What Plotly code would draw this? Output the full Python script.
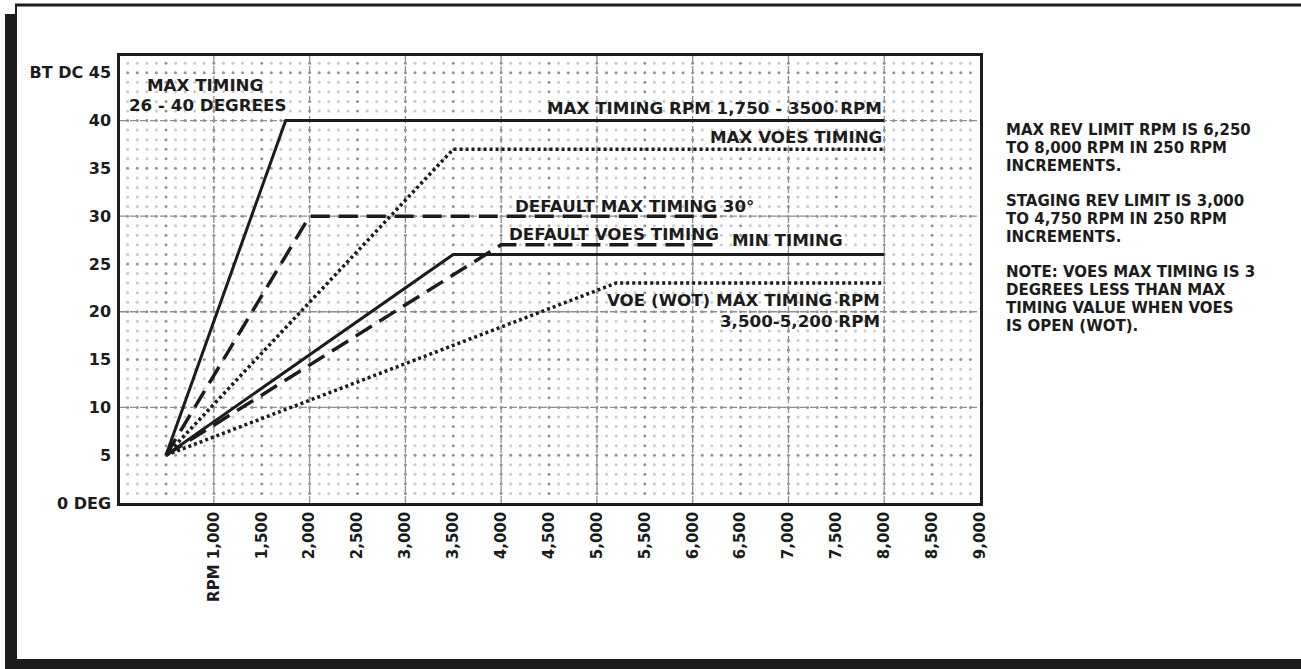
import plotly.graph_objects as go

# ---------------- data ----------------
max_timing_rpm = [500, 1750, 8000]
max_timing_deg = [5, 40, 40]

max_voes_rpm = [500, 3500, 8000]
max_voes_deg = [5, 37, 37]

default_max_rpm = [500, 2000, 6250]
default_max_deg = [5, 30, 30]

min_timing_rpm = [500, 3500, 8000]
min_timing_deg = [5, 26, 26]

default_voes_rpm = [500, 4000, 6250]
default_voes_deg = [5, 27, 27]

voe_wot_rpm = [500, 5200, 8000]
voe_wot_deg = [5, 23, 23]

x_tick_vals = [1000, 1500, 2000, 2500, 3000, 3500, 4000, 4500, 5000,
               5500, 6000, 6500, 7000, 7500, 8000, 8500, 9000]
x_tick_text = ["RPM 1,000", "1,500", "2,000", "2,500", "3,000", "3,500",
               "4,000", "4,500", "5,000", "5,500", "6,000", "6,500",
               "7,000", "7,500", "8,000", "8,500", "9,000"]
y_tick_vals = [0, 5, 10, 15, 20, 25, 30, 35, 40, 45]
y_tick_text = ["0 DEG", "5", "10", "15", "20", "25", "30", "35", "40", "BT DC 45"]

grid_x = [1000, 2000, 3000, 4000, 5000, 6000, 7000, 8000]
grid_y = [10, 20, 30, 40]

side_note_lines = [
    "MAX REV LIMIT RPM IS 6,250", "TO 8,000 RPM IN 250 RPM", "INCREMENTS.",
    "STAGING REV LIMIT IS 3,000", "TO 4,750 RPM IN 250 RPM", "INCREMENTS.",
    "NOTE: VOES MAX TIMING IS 3", "DEGREES LESS THAN MAX",
    "TIMING VALUE WHEN VOES", "IS OPEN (WOT).",
]
side_note_rows = [0, 1, 2, 4, 5, 6, 8, 9, 10, 11]

# ---------------- figure ----------------
INK = "#1c1c1c"
FONT = "DejaVu Sans"
X_RANGE = [20, 9000]
Y_RANGE = [0, 46.75]

fig = go.Figure()

# dot-grid background (every 100 rpm, every 1 degree)
dot_x, dot_y, dot_c = [], [], []
for r in range(100, 9000, 100):
    for d in range(1, 47):
        dot_x.append(r)
        dot_y.append(d)
        dot_c.append("#939393" if (r % 500 == 0 or d % 5 == 0) else "#cacaca")
fig.add_trace(go.Scatter(x=dot_x, y=dot_y, mode="markers",
                         marker=dict(size=3, color=dot_c, line=dict(width=0)),
                         hoverinfo="skip", showlegend=False))

def add_line(xs, ys, dash, width):
    fig.add_trace(go.Scatter(x=xs, y=ys, mode="lines",
                             line=dict(color=INK, width=width, dash=dash),
                             hoverinfo="skip", showlegend=False))

add_line(max_timing_rpm, max_timing_deg, "solid", 3)
add_line(min_timing_rpm, min_timing_deg, "solid", 3)
add_line(default_max_rpm, default_max_deg, "19px,9px", 3.5)
add_line(default_voes_rpm, default_voes_deg, "19px,9px", 3.5)
add_line(max_voes_rpm, max_voes_deg, "3px,3px", 3.5)
add_line(voe_wot_rpm, voe_wot_deg, "3px,3px", 3.5)

shapes = []
for gx in grid_x:
    shapes.append(dict(type="line", xref="x", yref="y", x0=gx, x1=gx,
                       y0=Y_RANGE[0], y1=Y_RANGE[1], layer="below",
                       line=dict(color="#8f8f8f", width=1.3, dash="7px,3px")))
for gy in grid_y:
    shapes.append(dict(type="line", xref="x", yref="y", x0=X_RANGE[0], x1=X_RANGE[1],
                       y0=gy, y1=gy, layer="below",
                       line=dict(color="#8f8f8f", width=1.3, dash="7px,3px")))

# page frame (pixel -> paper conversion)
PL, PW, PB, PH = 120, 860, 503, 447
def px(v):
    return (v - PL) / PW
def py(v):
    return (PB - v) / PH

shapes += [
    dict(type="rect", xref="paper", yref="paper", x0=px(5), x1=px(17), y0=py(669), y1=py(14),
         fillcolor=INK, line=dict(width=0)),
    dict(type="rect", xref="paper", yref="paper", x0=px(5), x1=px(1301), y0=py(669), y1=py(659),
         fillcolor=INK, line=dict(width=0)),
    dict(type="line", xref="paper", yref="paper", x0=px(15), x1=px(1301), y0=py(5), y1=py(5),
         line=dict(color=INK, width=3)),
    dict(type="line", xref="paper", yref="paper", x0=px(16), x1=px(16), y0=py(5), y1=py(15),
         line=dict(color=INK, width=2)),
]

ann_font = dict(family=FONT, size=16.7, color=INK, weight="bold")
annotations = [
    dict(x=910, y=43.7, text="MAX TIMING", xanchor="center"),
    dict(x=930, y=41.6, text="26 - 40 DEGREES", xanchor="center"),
    dict(x=8000, y=41.3, text="MAX TIMING RPM 1,750 - 3500 RPM", xanchor="right"),
    dict(x=8000, y=38.3, text="MAX VOES TIMING", xanchor="right"),
    dict(x=4120, y=31.1, text="DEFAULT MAX TIMING 30°", xanchor="left"),
    dict(x=4060, y=28.1, text="DEFAULT VOES TIMING", xanchor="left"),
    dict(x=6390, y=27.5, text="MIN TIMING", xanchor="left"),
    dict(x=7980, y=21.2, text="VOE (WOT) MAX TIMING RPM", xanchor="right"),
    dict(x=7980, y=19.0, text="3,500-5,200 RPM", xanchor="right"),
]
for a in annotations:
    a.update(xref="x", yref="y", yanchor="middle", showarrow=False, font=ann_font)

for txt, row in zip(side_note_lines, side_note_rows):
    annotations.append(dict(xref="paper", yref="paper", x=px(1004), y=py(130 + 17.8 * row),
                            xanchor="left", yanchor="middle", align="left",
                            showarrow=False, text=txt,
                            font=dict(family=FONT, size=15, color=INK, weight="bold")))

fig.update_layout(
    width=1301, height=669,
    margin=dict(l=120, r=321, t=56, b=166, pad=0),
    paper_bgcolor="white", plot_bgcolor="white",
    showlegend=False,
    shapes=shapes, annotations=annotations,
    xaxis=dict(range=X_RANGE, tickvals=x_tick_vals, ticktext=x_tick_text,
               tickangle=-90, tickfont=dict(family=FONT, size=15, color=INK, weight="bold"),
               showgrid=False, zeroline=False,
               showline=True, mirror=True, linecolor=INK, linewidth=2.5,
               ticks="", ticklabelstandoff=0),
    yaxis=dict(range=Y_RANGE, tickvals=y_tick_vals, ticktext=y_tick_text,
               tickfont=dict(family=FONT, size=16, color=INK, weight="bold"),
               showgrid=False, zeroline=False,
               showline=True, mirror=True, linecolor=INK, linewidth=2.5,
               ticks="", ticklabelstandoff=3),
)

fig.write_html("out.html", config={"displayModeBar": False},
               post_script="document.body.style.margin='0px';document.body.style.overflow='hidden';")
